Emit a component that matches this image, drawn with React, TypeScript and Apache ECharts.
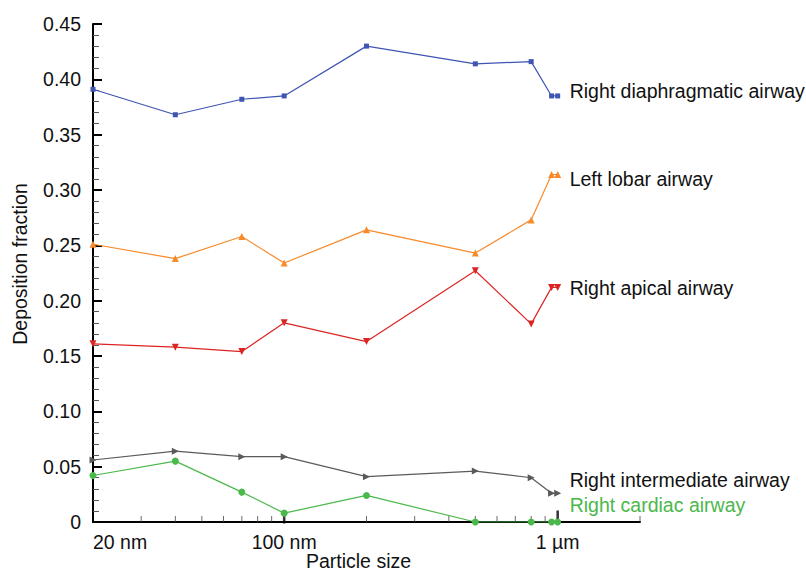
import React, { useEffect, useRef } from "react";
import * as echarts from "echarts";

const particleSizes = [20, 40, 70, 100, 200, 500, 800, 950, 1000];
const rightDiaphragmatic = [0.391, 0.368, 0.382, 0.385, 0.43, 0.414, 0.416, 0.385, 0.385];
const leftLobar = [0.251, 0.238, 0.258, 0.234, 0.264, 0.243, 0.273, 0.314, 0.314];
const rightApical = [0.161, 0.158, 0.154, 0.18, 0.163, 0.227, 0.179, 0.212, 0.212];
const rightIntermediate = [0.056, 0.064, 0.059, 0.059, 0.041, 0.046, 0.04, 0.026, 0.026];
const rightCardiac = [0.042, 0.055, 0.027, 0.008, 0.024, 0, 0, 0, 0];

const xMinorTicks = [30, 40, 50, 60, 70, 80, 90, 200, 300, 400, 500, 600, 700, 800, 900, 2000];
const xMajorTicks = [100, 1000];
const xTickLabels: Record<number, string> = { 20: "20 nm", 100: "100 nm", 1000: "1 µm" };

const FONT = "'Liberation Sans', Arial, sans-serif";
const FS = 19.5;

export default function App() {
  const ref = useRef<HTMLDivElement>(null);
  useEffect(() => {
    if (!ref.current) return;
    const chart = echarts.init(ref.current, undefined, { renderer: "svg" });
    const mk = (
      name: string,
      vals: number[],
      color: string,
      symbol: string,
      symbolSize: number,
      symbolRotate: number,
      labelColor: string,
      dy: number
    ) => ({
      type: "line",
      name,
      data: particleSizes.map((x, i) => [x, vals[i]]),
      symbol,
      symbolSize,
      symbolRotate,
      showAllSymbol: true,
      lineStyle: { color, width: 1.2 },
      itemStyle: { color },
      z: 3,
      endLabel: {
        show: true,
        formatter: name,
        color: labelColor,
        fontSize: FS,
        fontFamily: FONT,
        distance: 12,
        offset: [0, dy],
      },
    });
    chart.setOption({
      animation: false,
      textStyle: { fontFamily: FONT },
      grid: {
        left: 93,
        top: 24,
        right: 166,
        bottom: 49,
        containLabel: false,
        outerBoundsMode: "none",
      },
      xAxis: {
        type: "log",
        logBase: 10,
        min: 20,
        max: 2000,
        name: "Particle size",
        nameLocation: "middle",
        nameGap: 29,
        nameMoveOverlap: false,
        nameTextStyle: { fontSize: FS, color: "#111", fontFamily: FONT, padding: [0, 16, 0, 0] },
        axisLine: { lineStyle: { color: "#000", width: 2 } },
        axisTick: { show: false },
        splitLine: { show: false },
        axisLabel: {
          fontSize: FS,
          color: "#111",
          fontFamily: FONT,
          margin: 10,
          alignMinLabel: "left",
          showMinLabel: true,
          showMaxLabel: false,
          formatter: (v: number) => xTickLabels[Math.round(v)] || "",
        },
      },
      yAxis: {
        type: "value",
        min: 0,
        max: 0.45,
        interval: 0.05,
        name: "Deposition fraction",
        nameLocation: "middle",
        nameGap: 63,
        nameMoveOverlap: false,
        nameTextStyle: { fontSize: FS, color: "#111", fontFamily: FONT, padding: [0, 0, 0, 18] },
        axisLine: { show: true, lineStyle: { color: "#000", width: 2 } },
        axisTick: { show: true, inside: true, length: 9, lineStyle: { color: "#000", width: 2 } },
        minorTick: { show: true, splitNumber: 5, length: 6, lineStyle: { color: "#555", width: 1 } },
        splitLine: { show: false },
        axisLabel: {
          fontSize: FS,
          color: "#111",
          fontFamily: FONT,
          margin: 12,
          formatter: (v: number) => (v === 0 ? "0" : v.toFixed(2)),
        },
      },
      series: [
        mk("Right diaphragmatic airway", rightDiaphragmatic, "#3f55b3", "rect", 5, 0, "#111", -5),
        mk("Left lobar airway", leftLobar, "#f78a2a", "triangle", 7, 0, "#111", 4),
        mk("Right apical airway", rightApical, "#dd2424", "triangle", 7, 180, "#111", 1),
        mk("Right intermediate airway", rightIntermediate, "#5a5a5a", "triangle", 7, -90, "#111", -13),
        mk("Right cardiac airway", rightCardiac, "#4bb84b", "circle", 7, 0, "#4bb84b", -17),
        {
          type: "scatter",
          data: xMinorTicks.map((x) => [x, 0]),
          symbol: "rect",
          symbolSize: [1, 6],
          symbolOffset: [0, -3],
          itemStyle: { color: "#444" },
          silent: true,
          z: 2,
        },
        {
          type: "scatter",
          data: xMajorTicks.map((x) => [x, 0]),
          symbol: "rect",
          symbolSize: [2.5, 13],
          symbolOffset: [0, -5],
          itemStyle: { color: "#000" },
          silent: true,
          z: 2,
        },
      ],
    });
    return () => chart.dispose();
  }, []);
  return (
    <div
      ref={ref}
      style={{ position: "absolute", left: 0, top: 0, width: 806, height: 571, background: "#fff" }}
    />
  );
}
